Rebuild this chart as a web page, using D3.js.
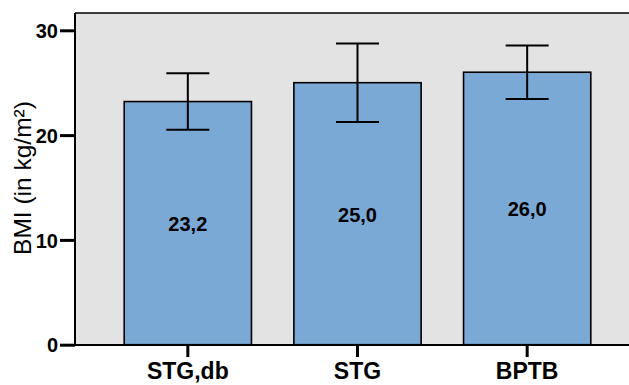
<!DOCTYPE html>
<html>
<head>
<meta charset="utf-8">
<script src="https://cdn.jsdelivr.net/npm/d3@7"></script>
<style>
  html, body { margin: 0; padding: 0; background: #fff; }
  svg { display: block; }
  text { font-family: "Liberation Sans", Arial, sans-serif; fill: #000; }
</style>
</head>
<body>
<svg id="chart" width="629" height="385"></svg>
<script>
// Mean BMI per group with standard deviation whiskers
const categories = ["STG,db", "STG", "BPTB"];
const means = [23.2, 25.0, 26.0];
const deviations = [2.7, 3.75, 2.55];
const yTicks = [0, 10, 20, 30];
const yLabel = "BMI (in kg/m²)";

const svg = d3.select("#chart");
const plot = { left: 75, right: 640, top: 13, bottom: 345 };

const x = d3.scaleBand()
  .domain(categories)
  .range([plot.left, plot.right])
  .paddingInner(0.25)
  .paddingOuter(0.29);

const y = d3.scaleLinear()
  .domain([0, 30])
  .range([344.7, 30.3]);

const locale = d3.formatLocale({ decimal: ",", thousands: ".", grouping: [3], currency: ["", " €"] });
const fmt = locale.format(".1f");

// plot background
svg.append("rect")
  .attr("x", plot.left).attr("y", plot.top)
  .attr("width", plot.right - plot.left).attr("height", plot.bottom - plot.top)
  .attr("fill", "#e3e3e3");

// frame line along the top
svg.append("line")
  .attr("x1", plot.left).attr("x2", plot.right)
  .attr("y1", plot.top).attr("y2", plot.top)
  .attr("stroke", "#000").attr("stroke-width", 1.6);

// bars
const rows = categories.map((c, i) => ({ c, m: means[i], sd: deviations[i] }));

svg.append("g").selectAll("rect").data(rows).join("rect")
  .attr("x", d => x(d.c))
  .attr("y", d => y(d.m))
  .attr("width", x.bandwidth())
  .attr("height", d => y(0) - y(d.m))
  .attr("fill", "#7ba9d5")
  .attr("stroke", "#000")
  .attr("stroke-width", 1.6);

// error bars
const capHalf = 21.5;
const eb = svg.append("g").attr("stroke", "#000").attr("stroke-width", 2);
rows.forEach(d => {
  const cx = x(d.c) + x.bandwidth() / 2;
  eb.append("line").attr("x1", cx).attr("x2", cx)
    .attr("y1", y(d.m + d.sd)).attr("y2", y(d.m - d.sd));
  eb.append("line").attr("x1", cx - capHalf).attr("x2", cx + capHalf)
    .attr("y1", y(d.m + d.sd)).attr("y2", y(d.m + d.sd));
  eb.append("line").attr("x1", cx - capHalf).attr("x2", cx + capHalf)
    .attr("y1", y(d.m - d.sd)).attr("y2", y(d.m - d.sd));
});

// value labels centred in each bar
svg.append("g").selectAll("text").data(rows).join("text")
  .attr("x", d => x(d.c) + x.bandwidth() / 2)
  .attr("y", d => (y(d.m) + y(0)) / 2 + 8)
  .attr("text-anchor", "middle")
  .attr("font-size", 20)
  .attr("font-weight", "bold")
  .text(d => fmt(d.m));

// y axis
const yAxis = svg.append("g")
  .attr("transform", `translate(${plot.left},0)`)
  .call(d3.axisLeft(y).tickValues(yTicks).tickSize(15).tickPadding(2).tickFormat(d3.format("d")));
yAxis.select(".domain").attr("stroke", "#000").attr("stroke-width", 2)
  .attr("d", `M0,${plot.top}V${plot.bottom}`);
yAxis.selectAll(".tick line").attr("stroke", "#000").attr("stroke-width", 3);
yAxis.selectAll(".tick text")
  .attr("font-size", 20).attr("font-weight", "bold")
  .attr("font-family", "'Liberation Sans', Arial, sans-serif")
  .attr("fill", "#000").attr("dy", "0.36em");

// x axis
const xAxis = svg.append("g")
  .attr("transform", `translate(0,${plot.bottom})`)
  .call(d3.axisBottom(x).tickSize(12).tickPadding(6));
xAxis.select(".domain").attr("stroke", "#000").attr("stroke-width", 2)
  .attr("d", `M${plot.left},0H${plot.right}`);
xAxis.selectAll(".tick line").attr("stroke", "#000").attr("stroke-width", 3);
xAxis.selectAll(".tick text")
  .attr("font-size", 23).attr("font-weight", "bold")
  .attr("font-family", "'Liberation Sans', Arial, sans-serif")
  .attr("fill", "#000").attr("dy", "0.71em");

// y axis title
svg.append("text")
  .attr("transform", "translate(31,178) rotate(-90)")
  .attr("text-anchor", "middle")
  .attr("font-size", 24.5)
  .text(yLabel);
</script>
</body>
</html>
